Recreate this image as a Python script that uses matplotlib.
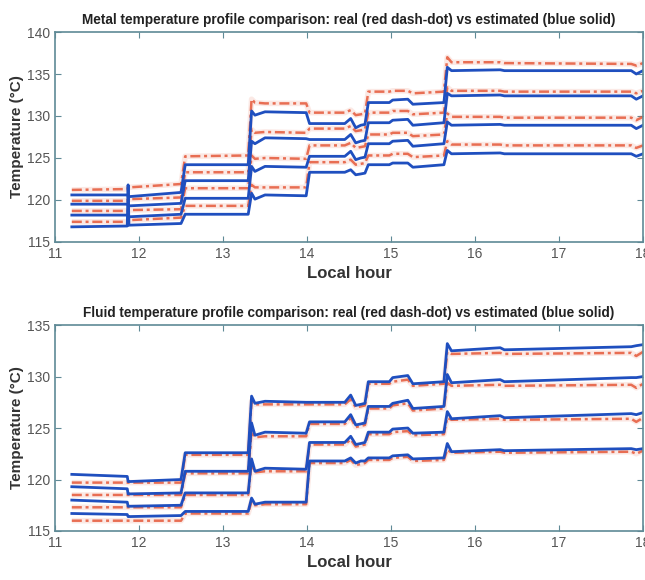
import matplotlib
matplotlib.use('Agg')
import matplotlib.pyplot as plt

plt.rcParams['font.family'] = ['Liberation Sans', 'DejaVu Sans']

# sample times (local hour), shared by all curves
hours = [11.20, 11.86, 11.87, 11.88, 12.50, 12.55, 13.30, 13.34, 13.38, 13.50,
         13.99, 14.03, 14.45, 14.52, 14.58, 14.64, 14.69, 14.73, 14.98, 15.02,
         15.20, 15.26, 15.63, 15.67, 15.72, 16.30, 16.35, 17.86, 17.92, 18.00]

# metal temperature, real (red) and estimated (blue)
metal_real_1 = [121.2, 121.3, 121.5, 121.5, 121.9, 125.2, 125.3, 132.0, 131.6, 131.5,
                131.5, 130.4, 130.4, 130.7, 130.1, 130.2, 130.3, 132.9, 132.9, 133.0,
                133.0, 132.7, 132.9, 137.0, 136.4, 136.4, 136.3, 136.2, 136.0, 136.3]
metal_real_2 = [119.9, 119.9, 120.1, 120.1, 120.3, 123.3, 123.3, 128.4, 128.0, 128.1,
                128.0, 128.5, 128.5, 128.8, 128.2, 128.3, 128.4, 130.4, 130.4, 130.6,
                130.6, 130.2, 130.4, 133.4, 133.0, 133.0, 132.9, 132.9, 132.7, 133.0]
metal_real_3 = [118.7, 118.7, 118.8, 118.8, 118.9, 121.4, 121.4, 125.3, 124.9, 125.0,
                124.9, 126.5, 126.5, 126.8, 126.2, 126.3, 126.4, 127.8, 127.8, 128.0,
                128.0, 127.6, 127.8, 130.3, 129.9, 129.9, 129.8, 129.8, 129.5, 129.9]
metal_real_4 = [117.4, 117.4, 117.6, 117.6, 117.9, 119.3, 119.3, 121.8, 121.5, 121.5,
                121.5, 124.5, 124.5, 124.8, 124.2, 124.3, 124.4, 125.3, 125.3, 125.5,
                125.5, 125.1, 125.3, 127.0, 126.6, 126.6, 126.5, 126.5, 126.2, 126.5]
metal_est_1 = [120.6, 120.6, 120.5, 120.4, 120.9, 124.2, 124.2, 130.6, 130.1, 130.5,
               130.4, 129.1, 129.1, 129.7, 128.6, 128.9, 129.0, 131.6, 131.6, 131.9,
               132.0, 131.4, 131.6, 135.8, 135.4, 135.5, 135.4, 135.4, 135.0, 135.4]
metal_est_2 = [119.5, 119.5, 119.4, 119.3, 119.6, 122.3, 122.3, 127.0, 126.7, 127.4,
               127.3, 127.2, 127.2, 127.8, 126.8, 127.0, 127.1, 129.2, 129.2, 129.5,
               129.6, 128.9, 129.2, 132.7, 132.4, 132.5, 132.4, 132.4, 132.0, 132.4]
metal_est_3 = [118.2, 118.2, 118.1, 118.0, 118.3, 120.2, 120.2, 124.0, 123.4, 124.0,
               123.9, 125.2, 125.2, 125.8, 124.8, 125.0, 125.1, 126.7, 126.7, 127.0,
               127.1, 126.4, 126.7, 129.3, 128.9, 129.0, 128.9, 128.9, 128.5, 128.9]
metal_est_4 = [116.8, 116.9, 121.8, 117.0, 117.2, 118.3, 118.3, 120.8, 120.1, 120.6,
               120.5, 123.3, 123.3, 123.6, 123.0, 123.1, 123.2, 124.2, 124.2, 124.4,
               124.4, 123.9, 124.2, 125.9, 125.5, 125.6, 125.5, 125.5, 125.2, 125.5]

# fluid temperature, real (red) and estimated (blue)
fluid_real_1 = [119.7, 119.7, 119.7, 119.7, 119.7, 122.4, 122.4, 127.6, 127.3, 127.3,
                127.3, 127.3, 127.3, 127.8, 127.0, 127.1, 127.2, 129.3, 129.3, 129.5,
                129.7, 129.1, 129.3, 132.4, 132.2, 132.3, 132.2, 132.3, 132.0, 132.4]
fluid_real_2 = [118.5, 118.5, 118.5, 118.5, 118.5, 120.6, 120.6, 124.7, 124.1, 124.2,
                124.2, 125.4, 125.4, 126.0, 125.1, 125.2, 125.3, 126.9, 126.9, 127.2,
                127.4, 126.7, 126.9, 129.4, 129.1, 129.2, 129.1, 129.2, 128.9, 129.3]
fluid_real_3 = [117.3, 117.3, 117.3, 117.3, 117.3, 118.5, 118.5, 121.5, 120.7, 120.8,
                120.8, 123.4, 123.4, 123.9, 123.2, 123.3, 123.4, 124.4, 124.4, 124.6,
                124.7, 124.3, 124.4, 126.0, 125.8, 125.9, 125.8, 125.9, 125.6, 126.0]
fluid_real_4 = [116.0, 116.0, 116.0, 116.0, 116.0, 116.7, 116.7, 117.9, 117.5, 117.6,
                117.6, 121.6, 121.6, 121.9, 121.4, 121.5, 121.6, 121.9, 121.9, 122.1,
                122.2, 121.8, 121.9, 122.9, 122.6, 122.7, 122.6, 122.7, 122.5, 122.8]
fluid_est_1 = [120.5, 120.3, 119.8, 119.8, 120.0, 122.6, 122.6, 128.1, 127.4, 127.6,
               127.5, 127.5, 127.5, 128.2, 127.2, 127.3, 127.4, 129.5, 129.5, 129.9,
               130.1, 129.3, 129.5, 133.2, 132.5, 132.8, 132.6, 132.9, 133.0, 133.1]
fluid_est_2 = [119.3, 119.1, 118.6, 118.6, 118.7, 120.8, 120.8, 125.5, 124.3, 124.6,
               124.5, 125.6, 125.6, 126.3, 125.3, 125.4, 125.5, 127.1, 127.1, 127.4,
               127.7, 126.9, 127.1, 130.2, 129.4, 129.7, 129.5, 129.9, 129.9, 130.0]
fluid_est_3 = [118.0, 117.8, 117.4, 117.4, 117.5, 118.7, 118.7, 122.0, 120.8, 121.1,
               121.0, 123.6, 123.6, 124.2, 123.4, 123.5, 123.6, 124.6, 124.6, 124.9,
               125.0, 124.5, 124.6, 126.6, 125.9, 126.2, 126.0, 126.4, 126.3, 126.5]
fluid_est_4 = [116.7, 116.6, 116.4, 116.4, 116.5, 116.9, 116.9, 118.2, 117.6, 117.8,
               117.8, 121.8, 121.8, 122.1, 121.6, 121.8, 121.8, 122.1, 122.1, 122.3,
               122.4, 122.0, 122.1, 123.5, 122.7, 122.9, 122.8, 123.0, 122.9, 123.0]

metal_real = [metal_real_1, metal_real_2, metal_real_3, metal_real_4]
metal_est = [metal_est_1, metal_est_2, metal_est_3, metal_est_4]
fluid_real = [fluid_real_1, fluid_real_2, fluid_real_3, fluid_real_4]
fluid_est = [fluid_est_1, fluid_est_2, fluid_est_3, fluid_est_4]

x_ticks = [11, 12, 13, 14, 15, 16, 17, 18]
metal_yticks = [115, 120, 125, 130, 135, 140]
fluid_yticks = [115, 120, 125, 130, 135]

red = '#e4502f'
blue = '#1f4fbf'
frame = '#5f8a96'

fig = plt.figure(figsize=(6.45, 5.8), dpi=100)
ax1 = fig.add_axes([0.0853, 0.5828, 0.9116, 0.362])
ax2 = fig.add_axes([0.0853, 0.0845, 0.9116, 0.355])


def draw(ax, real, est, yticks, title):
    for s in real:
        # soft halo under the dash-dot line, like the blurry original
        ax.plot(hours, s, color=red, lw=4, alpha=0.12, solid_capstyle='butt')
        ax.plot(hours, s, color=red, lw=1.8, alpha=0.8, linestyle=(0, (4, 1.5, 1.2, 1.5)))
    for s in est:
        ax.plot(hours, s, color=blue, lw=2.0)
    ax.set_xlim(11, 18)
    ax.set_ylim(yticks[0], yticks[-1])
    ax.set_xticks(x_ticks)
    ax.set_yticks(yticks)
    ax.tick_params(direction='in', top=True, right=True, length=4, color=frame,
                   labelsize=10, labelcolor='#555555')
    for sp in ax.spines.values():
        sp.set_color(frame)
        sp.set_linewidth(1.2)
    ax.set_title(title, fontsize=9.8, fontweight='bold', color='#222222', pad=6)
    ax.set_xlabel('Local hour', fontsize=12, fontweight='bold', color='#333333', labelpad=4)
    ax.set_ylabel('Temperature (°C)', fontsize=11, fontweight='bold', color='#333333', labelpad=2)


draw(ax1, metal_real, metal_est, metal_yticks,
     'Metal temperature profile comparison: real (red dash-dot) vs estimated (blue solid)')
draw(ax2, fluid_real, fluid_est, fluid_yticks,
     'Fluid temperature profile comparison: real (red dash-dot) vs estimated (blue solid)')

fig.savefig('out.png', dpi=100)
